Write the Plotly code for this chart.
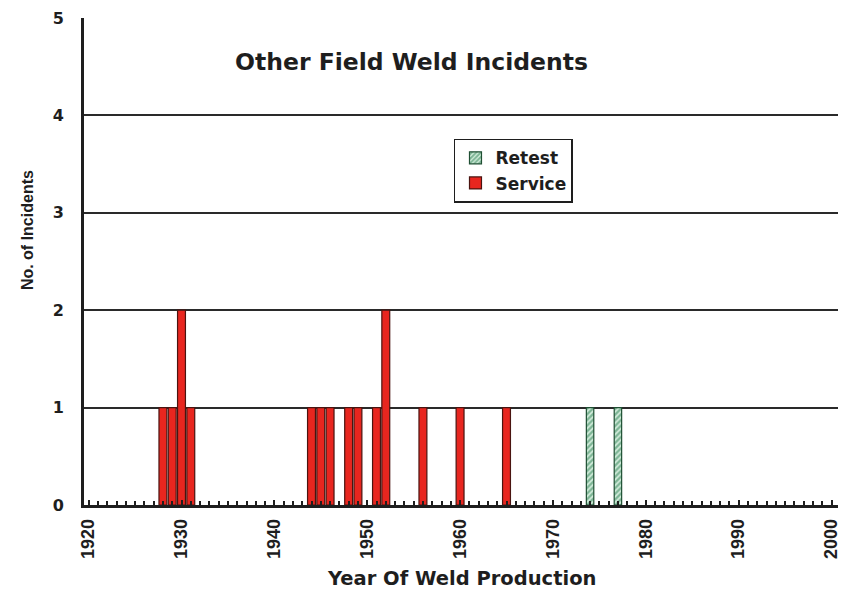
import plotly.graph_objects as go

service_years = [1928, 1929, 1930, 1931, 1944, 1945, 1946, 1948, 1949, 1951, 1952, 1956, 1960, 1965]
service_counts = [1, 1, 2, 1, 1, 1, 1, 1, 1, 1, 2, 1, 1, 1]
retest_years = [1974, 1977]
retest_counts = [1, 1]
x_ticks = [1920, 1930, 1940, 1950, 1960, 1970, 1980, 1990, 2000]
y_ticks = [0, 1, 2, 3, 4, 5]

WIDE = "DejaVu Sans, Verdana, sans-serif"
ARIAL = "Liberation Sans, Arial, sans-serif"
INK = "#1e1e1e"

fig = go.Figure()
fig.add_trace(go.Bar(
    x=retest_years, y=retest_counts, name="Retest", width=0.8,
    marker=dict(color="#d8efdf", line=dict(color="#1f4f33", width=1.2),
                pattern=dict(shape="/", fgcolor="#1f7a4a", bgcolor="#d8efdf", size=4, solidity=0.6)),
))
fig.add_trace(go.Bar(
    x=service_years, y=service_counts, name="Service", width=0.85,
    marker=dict(color="#e8261f", line=dict(color="#4a1410", width=1.2)),
))

fig.update_layout(
    width=838, height=582,
    margin=dict(l=76, r=8, t=10, b=85),
    paper_bgcolor="white", plot_bgcolor="white",
    font=dict(family=WIDE, size=14, color=INK),
    barmode="overlay",
    showlegend=True,
    legend=dict(x=0.4907, y=0.752, xanchor="left", yanchor="top",
                bordercolor=INK, borderwidth=1.5, bgcolor="white",
                font=dict(family=WIDE, size=17, color=INK, weight="bold"),
                tracegroupgap=0, itemwidth=30),
    annotations=[
        dict(text="Other Field Weld Incidents", x=0.434, y=0.9097,
             xref="paper", yref="paper", showarrow=False,
             xanchor="center", yanchor="middle",
             font=dict(family=WIDE, size=23.5, color=INK, weight="bold")),
        dict(text="No. of Incidents", x=-0.0741, y=0.5647, textangle=-90,
             xref="paper", yref="paper", showarrow=False,
             xanchor="center", yanchor="middle",
             font=dict(family=ARIAL, size=16, color=INK, weight="bold")),
        dict(text="Year Of Weld Production", x=0.5013, y=-0.1499,
             xref="paper", yref="paper", showarrow=False,
             xanchor="center", yanchor="middle",
             font=dict(family=WIDE, size=19.5, color=INK, weight="bold")),
    ],
)

fig.update_xaxes(
    automargin=False,
    range=[1919.5, 2000.7], tickvals=x_ticks, ticktext=[str(v) for v in x_ticks],
    tickangle=-90, ticks="inside", ticklen=5, tickcolor=INK, tickwidth=1.5,
    minor=dict(dtick=1, tick0=1920, ticks="inside", ticklen=4, tickcolor=INK, tickwidth=1.5),
    showline=True, linecolor=INK, linewidth=2.5, showgrid=False, zeroline=False,
    ticklabelstandoff=4, ticklabeloverflow="allow",
    tickfont=dict(family=ARIAL, size=18, color=INK, weight="bold"),
)
fig.update_yaxes(
    automargin=False,
    range=[0, 5], tickvals=y_ticks, ticks="", showline=True, linecolor=INK, linewidth=3,
    showgrid=True, gridcolor="#2a2a2a", gridwidth=1.5, zeroline=False,
    tickfont=dict(family=WIDE, size=16, color=INK, weight="bold"),
    ticklabelstandoff=14, ticklabeloverflow="allow",
)

fig.write_html("out.html")
